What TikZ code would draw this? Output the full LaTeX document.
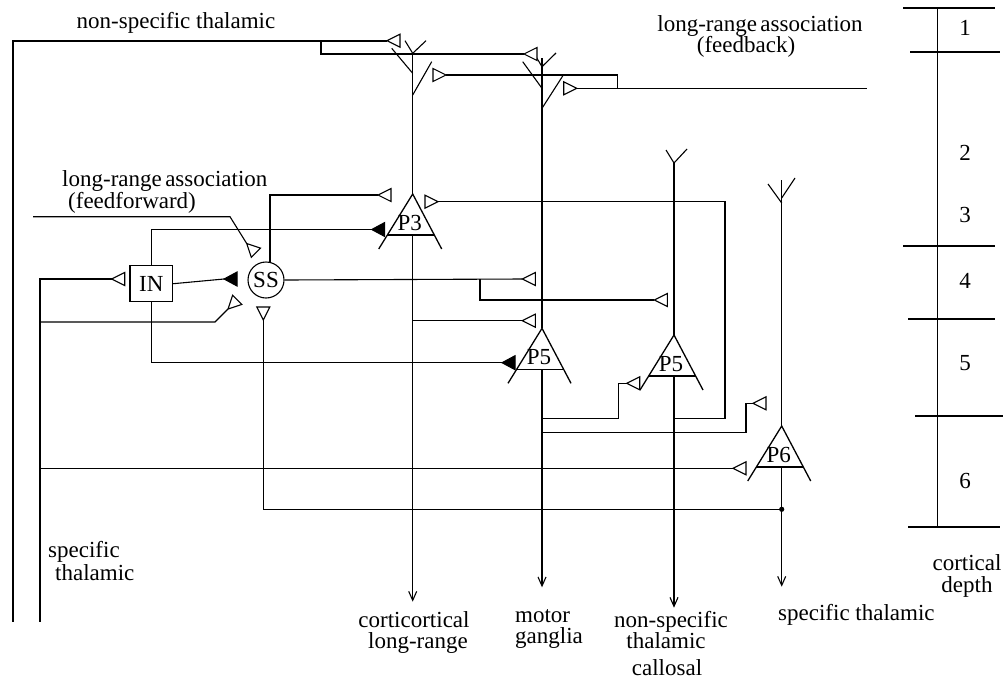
\documentclass[tikz,border=0pt]{standalone}
\usepackage{fontspec}
\setmainfont{Liberation Serif}
\usetikzlibrary{arrows.meta}
\begin{document}
\begin{tikzpicture}[x=1pt,y=-1pt,
  ln/.style={line width=1.1pt},
  thk/.style={line width=1.6pt},
  lbl/.style={font=\fontsize{23}{24}\selectfont, inner sep=0pt},
  ax/.style={line width=1.1pt,-{Straight Barb[length=9pt,width=8pt,line width=1.1pt]}},
  syn/.pic={\draw[line width=1.1pt, fill=white] (0,0) -- (13,-6.5) -- (13,6.5) -- cycle;},
  isyn/.pic={\draw[line width=1pt, fill=black] (0,0) -- (13,-7) -- (13,7) -- cycle;},
  pyr/.pic={\draw[line width=1.3pt] (-34,55) -- (0,0) -- (29,55);
            \draw[line width=1.3pt] (-25.3,41) -- (21.6,41);
            \node[lbl] at (-3,29) {#1};}
]
\useasboundingbox (0,0) rectangle (1008,681);

% ---------- cells ----------
\coordinate (P3) at (412.7,194);
\coordinate (P5) at (542,328.3);
\coordinate (P5b) at (674,335);
\coordinate (P6) at (781.7,426);
\pic at (P3) {pyr=P3};
\pic at (P5) {pyr=P5};
\pic at (P5b) {pyr=P5};
\pic at (P6) {pyr=P6};
\node[draw, ln, lbl, minimum width=42.7pt, minimum height=36pt] (IN) at (151.3,283.7) {IN};
\node[draw, ln, lbl, circle, minimum size=36pt] (SS) at (266,280) {SS};

% ---------- dendrites ----------
\draw[ln] (P3) -- (412.7,53.3);
\draw[ln] (405,40.7) -- (412.7,53.3) -- (426,40.7);
\draw[ln] (391.7,48.3) -- (412.7,73.3);
\draw[ln] (412.7,95) -- (431.7,61.7);

\draw[ln] (P5) -- (542,58);
\draw[ln] (535,55) -- (542,66.7) -- (556,53);
\draw[ln] (522.7,61.7) -- (542,88.3);
\draw[ln] (542,108.3) -- (562.7,76);

\draw[ln] (P5b) -- (674,163);
\draw[ln] (666,150) -- (674,163) -- (687,149);

\draw[ln] (P6) -- (781.7,180);
\draw[ln] (768,184) -- (781.7,203);
\draw[ln] (795,178) -- (781.7,198);

% ---------- axons ----------
\draw[ax] (412.7,235) -- (412.7,601.7);
\draw[ax] (542,369.3) -- (542,587.3);
\draw[ax] (674,376) -- (674,607.7);
\draw[ax] (781.7,467) -- (781.7,586.7);

% ---------- non-specific thalamic ----------
\coordinate (nsA) at (387,40.7);
\coordinate (nsB) at (524,54);
\draw[thk] (12.7,621.7) -- (12.7,40.7) -- (nsA);
\draw[thk] (320.7,40.7) -- (320.7,54) -- (nsB);
\pic at (nsA) {syn};
\pic at (nsB) {syn};

% ---------- feedback ----------
\coordinate (fbA) at (446,75);
\coordinate (fbB) at (576.7,88.3);
\draw[thk] (866.7,88.3) -- (fbB);
\draw[thk] (617.3,88.3) -- (617.3,75) -- (fbA);
\pic[rotate=180] at (fbA) {syn};
\pic[rotate=180] at (fbB) {syn};

% ---------- feedforward ----------
\coordinate (ffA) at (246.7,243.5);
\draw[ln] (33,216.7) -- (230,216.7) -- (ffA);
\pic[rotate=-45] at (ffA) {syn};

% ---------- specific thalamic ----------
\coordinate (stA) at (111.7,279);
\coordinate (stB) at (228,309);
\coordinate (stC) at (733,468.3);
\draw[thk] (40,621.7) -- (40,279) -- (stA);
\draw[ln] (40,322) -- (215,322) -- (stB);
\draw[ln] (40,468.3) -- (stC);
\pic at (stA) {syn};
\pic[rotate=45] at (stB) {syn};
\pic at (stC) {syn};

% ---------- IN outputs ----------
\coordinate (inA) at (224,279);
\coordinate (inB) at (371.7,229.5);
\coordinate (inC) at (502,362.7);
\draw[ln] (IN.east) -- (inA);
\draw[ln] (IN.north) -- (151.3,229.5) -- (inB);
\draw[ln] (IN.south) -- (151.3,362.7) -- (inC);
\pic at (inA) {isyn};
\pic at (inB) {isyn};
\pic at (inC) {isyn};

% ---------- SS outputs ----------
\coordinate (ssA) at (378,195);
\coordinate (ssB) at (522.3,279);
\coordinate (ssC) at (654.3,300);
\draw[ln] (270,262.2) -- (270,195) -- (ssA);
\draw[ln] (SS.east) -- (ssB);
\draw[ln] (480,279) -- (480,300) -- (ssC);
\pic at (ssA) {syn};
\pic at (ssB) {syn};
\pic at (ssC) {syn};

% ---------- P3 collateral ----------
\coordinate (p3A) at (522.3,320.7);
\draw[ln] (412.7,320.7) -- (p3A);
\pic at (p3A) {syn};

% ---------- P5 collaterals ----------
\coordinate (p5A) at (626.7,383.3);
\coordinate (p5B) at (753,403.3);
\draw[ln] (542,418.3) -- (618.3,418.3) -- (618.3,383.3) -- (p5A);
\draw[ln] (542,432.7) -- (746,432.7) -- (746,403.3) -- (p5B);
\pic at (p5A) {syn};
\pic at (p5B) {syn};

% ---------- P5b collateral to P3 ----------
\coordinate (p5bA) at (438,201.7);
\draw[ln] (674,418.3) -- (725,418.3) -- (725,201.7) -- (p5bA);
\pic[rotate=180] at (p5bA) {syn};

% ---------- P6 collateral to SS ----------
\coordinate (p6A) at (263.3,320);
\draw[ln] (781.7,509.3) -- (263.3,509.3) -- (p6A);
\fill (781.7,509.3) circle (2.6pt);
\pic[rotate=90] at (p6A) {syn};

% ---------- cortical depth scale ----------
\draw[ln] (937.5,8) -- (937.5,528);
\draw[ln] (903,8) -- (995,8);
\draw[ln] (910,52) -- (1000,52);
\draw[ln] (903,246) -- (995,246);
\draw[ln] (908,319) -- (995,319);
\draw[ln] (915,416) -- (1003,416);
\draw[ln] (908,527) -- (1000,527);
\node[lbl, anchor=base] (n1) at (965,35) {1};
\node[lbl, anchor=base] (n2) at (965,160) {2};
\node[lbl, anchor=base] (n3) at (965,222) {3};
\node[lbl, anchor=base] (n4) at (965,288) {4};
\node[lbl, anchor=base] (n5) at (965,370) {5};
\node[lbl, anchor=base] (n6) at (965,488) {6};

% ---------- labels ----------
\node[lbl, anchor=base] (t1) at (176,28) {non-specific thalamic};
\node[lbl, anchor=base] (t2) at (760,31) {long-range\hspace{0.15em}association};
\node[lbl, anchor=base] (t3) at (746,52.5) {(feedback)};
\node[lbl, anchor=base west] (t4) at (62,186.5) {long-range\hspace{0.15em}association};
\node[lbl, anchor=base west] (t5) at (68,208) {(feedforward)};
\node[lbl, anchor=base west] (t6) at (48,557) {specific};
\node[lbl, anchor=base west] (t7) at (55,580.5) {thalamic};
\node[lbl, anchor=base] (t8) at (414,627) {corticortical};
\node[lbl, anchor=base] (t9) at (418,648.5) {long-range};
\node[lbl, anchor=base west] (t10) at (515,622) {motor};
\node[lbl, anchor=base west] (t11) at (515,643.5) {ganglia};
\node[lbl, anchor=base] (t12) at (671,627) {non-specific};
\node[lbl, anchor=base] (t13) at (666,648.5) {thalamic};
\node[lbl, anchor=base] (t14) at (667,675) {callosal};
\node[lbl, anchor=base west] (t15) at (778,620) {specific thalamic};
\node[lbl, anchor=base] (t16) at (967,570.5) {cortical};
\node[lbl, anchor=base] (t17) at (967,592) {depth};
\end{tikzpicture}
\end{document}
